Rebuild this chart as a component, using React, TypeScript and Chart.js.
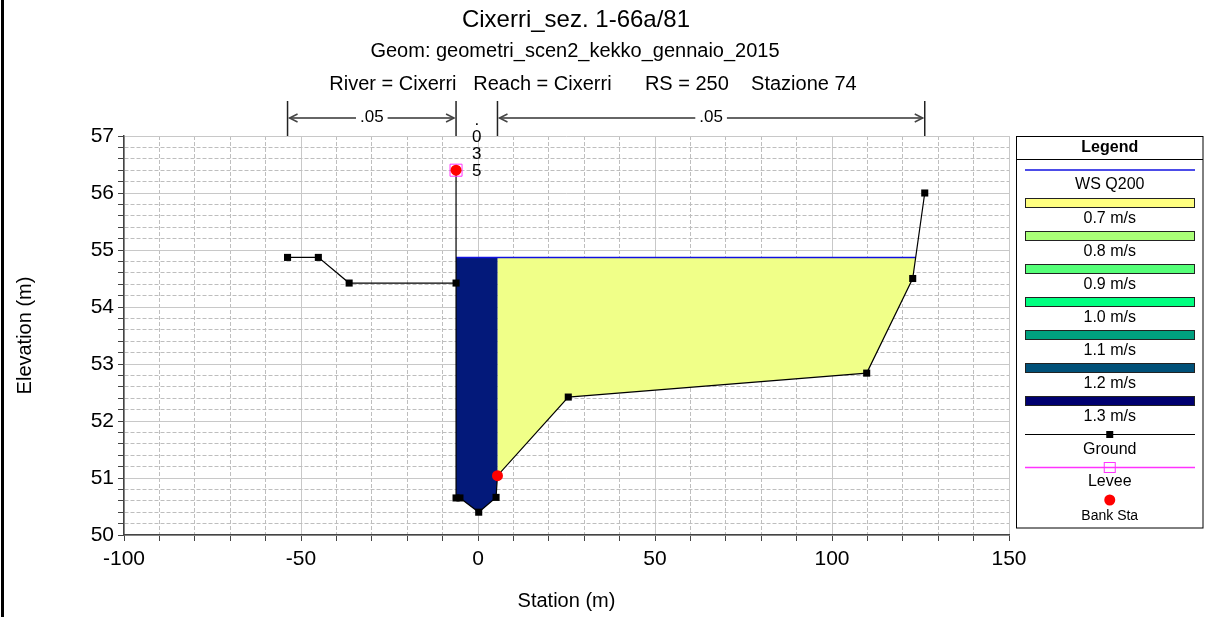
import React, { useEffect, useRef } from "react";
import { Chart, registerables } from "chart.js";

Chart.register(...registerables);

const FONT = "'Liberation Sans', Arial, sans-serif";

// ---- text ----
const titleText = "Cixerri_sez. 1-66a/81";
const geomText = "Geom: geometri_scen2_kekko_gennaio_2015";
const infoText = "River = Cixerri   Reach = Cixerri      RS = 250    Stazione 74";
const xTitle = "Station (m)";
const yTitle = "Elevation (m)";

// ---- ground profile ----
const groundStation = [-53.8, -45.1, -36.4, -6.2, -6.2, -6.2, -5.1, 0.2, 5.1, 5.5, 25.5, 109.8, 122.8, 126.2];
const groundElev = [54.87, 54.87, 54.42, 54.42, 56.4, 50.65, 50.65, 50.4, 50.66, 51.04, 52.42, 52.84, 54.5, 56.0];

// ---- water surface ----
const wsElevation = 54.87;
const wsLabel = "WS Q200";
const wsColor = "#1010E0";

// ---- bank stations / levee ----
const bankStation = [-6.2, 5.5];
const bankElev = [56.4, 51.04];
const leveeStation = [-6.2];
const leveeElev = [56.4];

// ---- Manning's n ----
const nStations = [-53.8, -6.2, 5.5, 126.2];
const nValues = [".05", ".035", ".05"];

// ---- velocity legend ----
const velocityLabels = ["0.7 m/s", "0.8 m/s", "0.9 m/s", "1.0 m/s", "1.1 m/s", "1.2 m/s", "1.3 m/s"];
const velocityColors = ["#FFFF80", "#AAFF78", "#55FF78", "#00FF80", "#00A080", "#005078", "#000070"];

// ---- axes ----
const xMin = -100, xMax = 150, xStep = 10, xMajor = 50;
const yMin = 50, yMax = 57, yStep = 0.2;

// flow regions: ground index ranges (left bank -> right bank, right bank -> right end)
const channelRange = [4, 9];
const rightOverbankRange = [9, 13];
const channelFill = "#03197A";
const rightOverbankFill = "#F0FF88";

function waterPolygon(a: number, b: number) {
  const pts: { x: number; y: number }[] = [];
  for (let i = a; i <= b; i++) {
    const x = groundStation[i], y = groundElev[i];
    if (i > a) {
      const px = groundStation[i - 1], py = groundElev[i - 1];
      if ((py - wsElevation) * (y - wsElevation) < 0) {
        const t = (wsElevation - py) / (y - py);
        pts.push({ x: px + t * (x - px), y: wsElevation });
      }
    }
    if (y <= wsElevation) pts.push({ x, y });
  }
  pts.unshift({ x: pts[0].x, y: wsElevation });
  pts.push({ x: pts[pts.length - 1].x, y: wsElevation });
  return pts;
}

const isInt = (v: number) => Math.abs(v - Math.round(v)) < 1e-6;
const isMajorX = (v: number) => Math.abs(v / xMajor - Math.round(v / xMajor)) < 1e-6;

const decorPlugin = {
  id: "decor",
  afterDraw(chart: any) {
    const { ctx, chartArea, scales } = chart;
    const xs = scales.x;
    ctx.save();
    // frame line on left
    ctx.fillStyle = "#000";
    ctx.fillRect(1, 0, 3, chart.height);

    // titles
    ctx.fillStyle = "#000";
    ctx.textAlign = "center";
    ctx.textBaseline = "middle";
    ctx.font = `24px ${FONT}`;
    ctx.fillText(titleText, 576, 20);
    ctx.font = `20px ${FONT}`;
    ctx.fillText(geomText, 575, 51);
    ctx.fillText(infoText, 593, 84);

    // axis titles
    ctx.font = `20px ${FONT}`;
    ctx.fillText(xTitle, (chartArea.left + chartArea.right) / 2, 601);
    ctx.save();
    ctx.translate(25, (chartArea.top + chartArea.bottom) / 2);
    ctx.rotate(-Math.PI / 2);
    ctx.fillText(yTitle, 0, 0);
    ctx.restore();

    // Manning's n
    const yTop = 101;
    const yArrow = 118;
    ctx.strokeStyle = "#222";
    ctx.lineWidth = 1.5;
    const nPx = nStations.map((s) => xs.getPixelForValue(s));
    nPx.forEach((px) => {
      ctx.beginPath();
      ctx.moveTo(px, yTop);
      ctx.lineTo(px, chartArea.top);
      ctx.stroke();
    });
    ctx.font = `17px ${FONT}`;
    nValues.forEach((txt, i) => {
      const x0 = nPx[i], x1 = nPx[i + 1];
      const tw = ctx.measureText(txt).width;
      const cx = (x0 + x1) / 2;
      if (x1 - x0 > tw + 40) {
        ctx.strokeStyle = "#666";
        ctx.lineWidth = 2;
        ctx.beginPath();
        ctx.moveTo(x0 + 2, yArrow);
        ctx.lineTo(cx - tw / 2 - 4, yArrow);
        ctx.moveTo(cx + tw / 2 + 4, yArrow);
        ctx.lineTo(x1 - 2, yArrow);
        ctx.stroke();
        ctx.strokeStyle = "#444";
        ctx.lineWidth = 1.5;
        ctx.beginPath();
        ctx.moveTo(x0 + 10, yArrow - 4);
        ctx.lineTo(x0 + 2, yArrow);
        ctx.lineTo(x0 + 10, yArrow + 4);
        ctx.moveTo(x1 - 10, yArrow - 4);
        ctx.lineTo(x1 - 2, yArrow);
        ctx.lineTo(x1 - 10, yArrow + 4);
        ctx.stroke();
        ctx.fillStyle = "#000";
        ctx.textAlign = "center";
        ctx.textBaseline = "middle";
        ctx.fillText(txt, cx, yArrow - 1);
      } else {
        ctx.fillStyle = "#000";
        ctx.textAlign = "center";
        ctx.textBaseline = "middle";
        txt.split("").forEach((ch, k) => {
          ctx.fillText(ch, cx, 120 + k * 17);
        });
      }
    });

    // legend box
    const lx0 = 1016.5, lx1 = 1203, ly0 = 136.5, ly1 = 528;
    const lcx = (lx0 + lx1) / 2;
    const rx0 = 1025, rx1 = 1195;
    ctx.strokeStyle = "#000";
    ctx.lineWidth = 1;
    ctx.strokeRect(lx0, ly0, lx1 - lx0, ly1 - ly0);
    ctx.beginPath();
    ctx.moveTo(lx0, 159.5);
    ctx.lineTo(lx1, 159.5);
    ctx.stroke();
    ctx.fillStyle = "#000";
    ctx.textAlign = "center";
    ctx.textBaseline = "middle";
    ctx.font = `bold 16px ${FONT}`;
    ctx.fillText("Legend", lcx, 148);
    ctx.font = `16px ${FONT}`;
    // WS
    ctx.strokeStyle = wsColor;
    ctx.lineWidth = 1.5;
    ctx.beginPath();
    ctx.moveTo(rx0, 170);
    ctx.lineTo(rx1, 170);
    ctx.stroke();
    ctx.lineWidth = 1;
    ctx.fillText(wsLabel, lcx, 185);
    // velocities
    velocityLabels.forEach((lab, i) => {
      const top = 198 + i * 33;
      ctx.fillStyle = velocityColors[i];
      ctx.fillRect(rx0, top, rx1 - rx0, 9);
      ctx.strokeStyle = "#222";
      ctx.strokeRect(rx0 + 0.5, top + 0.5, rx1 - rx0 - 1, 9);
      ctx.fillStyle = "#000";
      ctx.fillText(lab, lcx, top + 21);
    });
    // Ground
    ctx.strokeStyle = "#000";
    ctx.beginPath();
    ctx.moveTo(rx0, 434.5);
    ctx.lineTo(rx1, 434.5);
    ctx.stroke();
    ctx.fillStyle = "#000";
    ctx.fillRect(lcx - 3.5, 431, 7, 7);
    ctx.fillText("Ground", lcx, 450);
    // Levee
    ctx.strokeStyle = "#FF33FF";
    ctx.lineWidth = 1.5;
    ctx.beginPath();
    ctx.moveTo(rx0, 467.5);
    ctx.lineTo(rx1, 467.5);
    ctx.stroke();
    ctx.lineWidth = 1;
    ctx.strokeRect(lcx - 5.5, 462.5, 11, 10);
    ctx.fillStyle = "#000";
    ctx.fillText("Levee", lcx, 482);
    // Bank Sta
    ctx.fillStyle = "#FF0000";
    ctx.beginPath();
    ctx.arc(lcx, 500, 5.5, 0, Math.PI * 2);
    ctx.fill();
    ctx.fillStyle = "#000";
    ctx.font = `14px ${FONT}`;
    ctx.fillText("Bank Sta", lcx, 516);
    ctx.restore();
  },
};

export default function App() {
  const ref = useRef<HTMLCanvasElement | null>(null);
  useEffect(() => {
    if (!ref.current) return;
    const ground = groundStation.map((x, i) => ({ x, y: groundElev[i] }));
    const channel = waterPolygon(channelRange[0], channelRange[1]);
    const overbank = waterPolygon(rightOverbankRange[0], rightOverbankRange[1]);
    const ws = [
      { x: channel[0].x, y: wsElevation },
      { x: overbank[overbank.length - 1].x, y: wsElevation },
    ];
    const banks = bankStation.map((x, i) => ({ x, y: bankElev[i] }));
    const levees = leveeStation.map((x, i) => ({ x, y: leveeElev[i] }));

    const chart = new Chart(ref.current, {
      type: "line",
      data: {
        datasets: [
          {
            label: "Bank Sta",
            data: banks,
            showLine: false,
            pointStyle: "circle",
            pointRadius: 5.5,
            pointBackgroundColor: "#FF0000",
            pointBorderColor: "#FF0000",
            pointBorderWidth: 0,
          },
          {
            label: "Levee",
            data: levees,
            showLine: false,
            pointStyle: "rect",
            pointRadius: 8.5,
            pointBackgroundColor: "rgba(0,0,0,0)",
            pointBorderColor: "#FF33FF",
            pointBorderWidth: 1,
          },
          {
            label: "Ground",
            data: ground,
            borderColor: "#000",
            borderWidth: 1.2,
            pointStyle: "rect",
            pointRadius: 5,
            pointBackgroundColor: "#000",
            pointBorderColor: "#000",
            pointBorderWidth: 0,
            tension: 0,
          },
          {
            label: wsLabel,
            data: ws,
            borderColor: wsColor,
            borderWidth: 1.5,
            pointRadius: 0,
          },
          {
            label: velocityLabels[6],
            data: channel,
            borderWidth: 0,
            borderColor: "rgba(0,0,0,0)",
            backgroundColor: channelFill,
            pointRadius: 0,
            fill: "shape",
          },
          {
            label: velocityLabels[0],
            data: overbank,
            borderWidth: 0,
            borderColor: "rgba(0,0,0,0)",
            backgroundColor: rightOverbankFill,
            pointRadius: 0,
            fill: "shape",
          },
        ],
      },
      options: {
        responsive: false,
        animation: false,
        events: [],
        layout: { padding: { left: 0, right: 200, top: 136, bottom: 0 } },
        plugins: {
          legend: { display: false },
          title: { display: false },
          tooltip: { enabled: false },
        },
        scales: {
          x: {
            type: "linear",
            min: xMin,
            max: xMax,
            afterFit: (s: any) => {
              s.height = 82;
            },
            ticks: {
              stepSize: xStep,
              autoSkip: false,
              maxRotation: 0,
              padding: 6,
              color: "#000",
              font: { family: FONT, size: 21 },
              callback: (v: any) => (isMajorX(Number(v)) ? String(Math.round(Number(v))) : ""),
            },
            grid: {
              color: (c: any) => (c.tick && isMajorX(c.tick.value) ? "#C8C8C8" : "#BEBEBE"),
              lineWidth: 1,
              tickLength: 6,
              tickColor: "#444",
              tickWidth: 1,
            },
            border: {
              color: "#444",
              width: 1.5,
              dash: (c: any) => (c.tick && !isMajorX(c.tick.value) ? [4, 2] : []),
            },
          },
          y: {
            type: "linear",
            min: yMin,
            max: yMax,
            afterFit: (s: any) => {
              s.width = 124;
            },
            ticks: {
              stepSize: yStep,
              autoSkip: false,
              padding: 4,
              color: "#000",
              font: { family: FONT, size: 21 },
              callback: (v: any) => (isInt(Number(v)) ? String(Math.round(Number(v))) : ""),
            },
            grid: {
              color: (c: any) => (c.tick && isInt(c.tick.value) ? "#C8C8C8" : "#BEBEBE"),
              lineWidth: 1,
              tickLength: 6,
              tickColor: "#444",
              tickWidth: 1,
            },
            border: {
              color: "#444",
              width: 1.5,
              dash: (c: any) => (c.tick && !isInt(c.tick.value) ? [4, 2] : []),
            },
          },
        },
      },
      plugins: [decorPlugin],
    } as any);
    return () => chart.destroy();
  }, []);

  return (
    <div style={{ position: "fixed", left: 0, top: 0, width: 1209, height: 617, background: "#fff" }}>
      <canvas ref={ref} width={1209} height={617} style={{ display: "block" }} />
    </div>
  );
}
